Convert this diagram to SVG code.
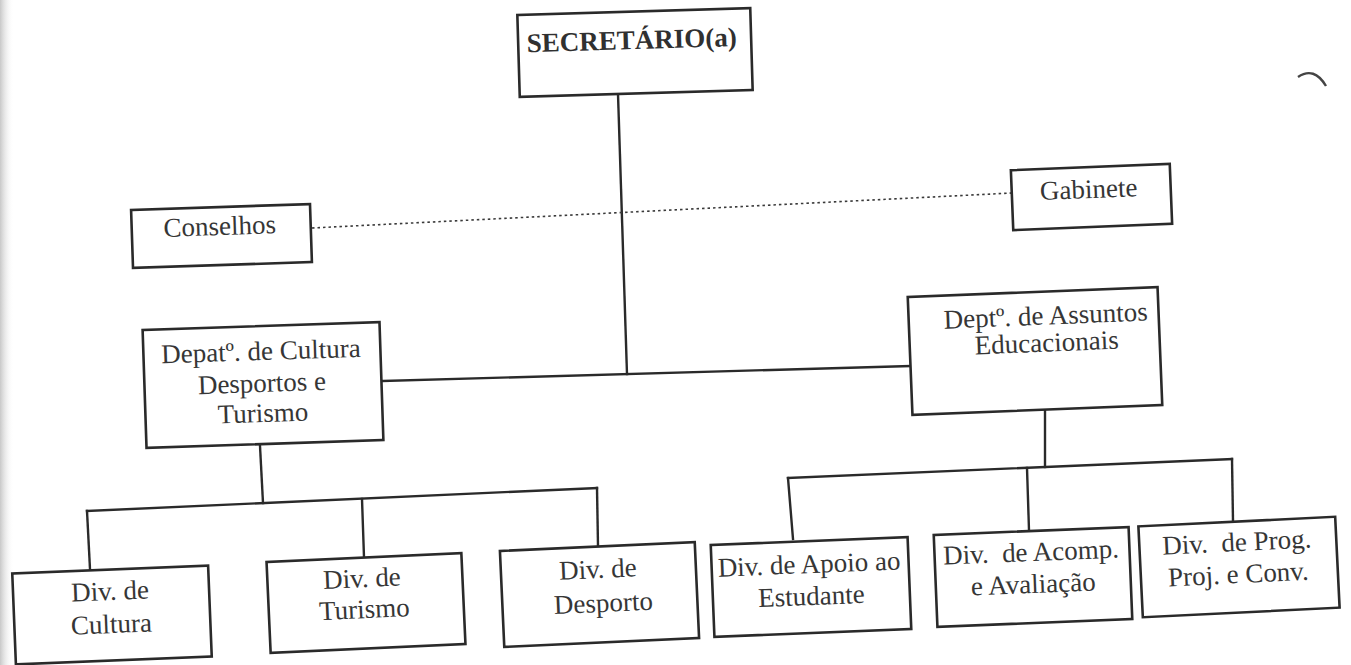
<svg xmlns="http://www.w3.org/2000/svg" width="1351" height="665" viewBox="0 0 1351 665">
<defs>
<linearGradient id="edge" x1="0" y1="0" x2="1" y2="0">
<stop offset="0" stop-color="#c8c8c8"/>
<stop offset="1" stop-color="#ffffff" stop-opacity="0"/>
</linearGradient>
</defs>
<style>
.box{fill:#ffffff;stroke:#2a2a2a;stroke-width:2.6}
.t{font-family:"Liberation Serif","Times New Roman","DejaVu Serif",serif;font-size:27px;fill:#363636;text-anchor:middle}
.b{font-family:"Liberation Serif","Times New Roman","DejaVu Serif",serif;font-size:27px;font-weight:bold;fill:#303030;text-anchor:middle}
.ln{stroke:#2a2a2a;stroke-width:2.4;fill:none;stroke-linecap:square}
.dot{stroke:#3a3a3a;stroke-width:1.6;fill:none;stroke-dasharray:2.5 3}
</style>
<rect x="0" y="0" width="1351" height="665" fill="#ffffff"/>
<rect x="0" y="0" width="14" height="665" fill="url(#edge)"/>
<path d="M1298,77 Q1314,66 1326,86" fill="none" stroke="#444" stroke-width="2.4"/>
<g id="connectors">
<line class="ln" x1="618" y1="94" x2="627" y2="374"/>
<line class="ln" x1="383" y1="381" x2="910" y2="366"/>
<line class="dot" x1="312" y1="228" x2="1012" y2="193"/>
<line class="ln" x1="260" y1="446" x2="263" y2="503"/>
<line class="ln" x1="87" y1="511" x2="597" y2="488"/>
<line class="ln" x1="87" y1="511" x2="90" y2="569"/>
<line class="ln" x1="362" y1="499" x2="364" y2="557"/>
<line class="ln" x1="597" y1="488" x2="598" y2="546"/>
<line class="ln" x1="1045" y1="411" x2="1045" y2="467"/>
<line class="ln" x1="788" y1="478" x2="1232" y2="459"/>
<line class="ln" x1="788" y1="478" x2="793" y2="539"/>
<line class="ln" x1="1027" y1="468" x2="1029" y2="530"/>
<line class="ln" x1="1232" y1="459" x2="1233" y2="521"/>
</g>
<g id="secretario" transform="rotate(-1.7 635 52.5)">
<rect class="box" x="518.5" y="11.5" width="233" height="82"/>
<text class="b" x="632" y="49">SECRETÁRIO(a)</text>
</g>
<g id="conselhos" transform="rotate(-1.9 221.5 236)">
<rect class="box" x="132" y="207" width="179" height="58"/>
<text class="t" x="220" y="235">Conselhos</text>
</g>
<g id="gabinete" transform="rotate(-2.3 1091.5 197)">
<rect class="box" x="1012" y="167" width="159" height="60"/>
<text class="t" x="1089" y="198">Gabinete</text>
</g>
<g id="dep-cultura" transform="rotate(-1.9 263 385)">
<rect class="box" x="144.5" y="326" width="237" height="118"/>
<text class="t" x="262" y="360">Depatº. de Cultura</text>
<text class="t" x="262" y="392">Desportos e</text>
<text class="t" x="262" y="422">Turismo</text>
</g>
<g id="dep-educacionais" transform="rotate(-2.3 1035 351)">
<rect class="box" x="910" y="292" width="250" height="118"/>
<text class="t" x="1047" y="325">Deptº. de Assuntos</text>
<text class="t" x="1047" y="352">Educacionais</text>
</g>
<g id="div-cultura" transform="rotate(-2.3 112 615)">
<rect class="box" x="14" y="569.5" width="196" height="91"/>
<text class="t" x="111" y="600">Div. de</text>
<text class="t" x="111" y="633">Cultura</text>
</g>
<g id="div-turismo" transform="rotate(-2.6 366 603)">
<rect class="box" x="268.5" y="557.5" width="195" height="91"/>
<text class="t" x="363" y="587">Div. de</text>
<text class="t" x="364" y="618">Turismo</text>
</g>
<g id="div-desporto" transform="rotate(-2.6 599.5 594.5)">
<rect class="box" x="502" y="546.5" width="195" height="96"/>
<text class="t" x="599" y="578">Div. de</text>
<text class="t" x="603" y="612">Desporto</text>
</g>
<g id="div-apoio" transform="rotate(-2.3 811 587)">
<rect class="box" x="712.5" y="541" width="197" height="92"/>
<text class="t" x="810" y="573">Div. de Apoio ao</text>
<text class="t" x="811" y="605">Estudante</text>
</g>
<g id="div-acomp" transform="rotate(-2.3 1033 577)">
<rect class="box" x="935.5" y="531" width="195" height="92"/>
<text class="t" x="1032" y="561" xml:space="preserve">Div.  de Acomp.</text>
<text class="t" x="1033" y="593">e Avaliação</text>
</g>
<g id="div-prog" transform="rotate(-2.8 1239 567)">
<rect class="box" x="1140.5" y="521.5" width="197" height="91"/>
<text class="t" x="1238" y="551" xml:space="preserve">Div.  de Prog.</text>
<text class="t" x="1238" y="583">Proj. e Conv.</text>
</g>
</svg>
